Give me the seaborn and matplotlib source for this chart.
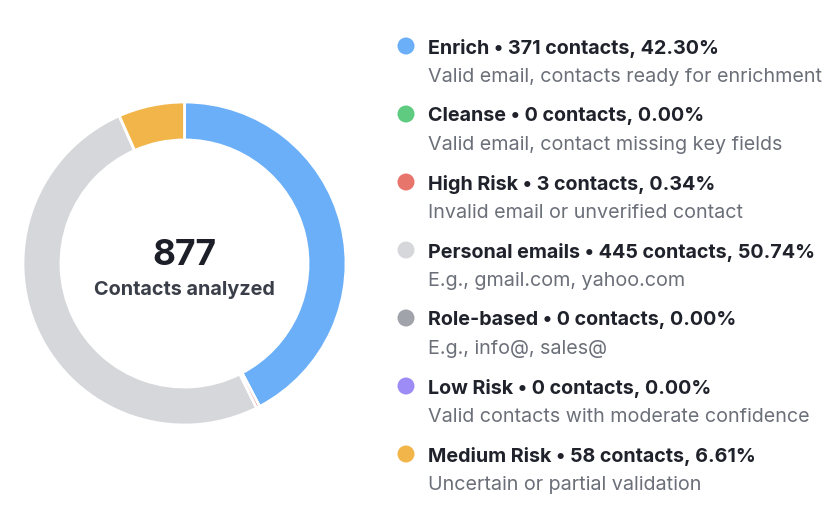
import matplotlib
matplotlib.use("Agg")
import matplotlib.pyplot as plt
import seaborn as sns

categories = ["Enrich", "Cleanse", "High Risk", "Personal emails", "Role-based", "Low Risk", "Medium Risk"]
counts = [371, 0, 3, 445, 0, 0, 58]
percents = ["42.30%", "0.00%", "0.34%", "50.74%", "0.00%", "0.00%", "6.61%"]
descriptions = [
    "Valid email, contacts ready for enrichment",
    "Valid email, contact missing key fields",
    "Invalid email or unverified contact",
    "E.g., gmail.com, yahoo.com",
    "E.g., info@, sales@",
    "Valid contacts with moderate confidence",
    "Uncertain or partial validation",
]
colors = ["#6aaff8", "#5fcb80", "#e8756b", "#d6d7db", "#a0a3a9", "#9d8cf6", "#f2b549"]
total = sum(counts)

sns.set_theme(style="white")
plt.rcParams["font.family"] = ["Inter", "DejaVu Sans"]

W, H = 840, 524
fig = plt.figure(figsize=(W / 100, H / 100), dpi=100)

# donut
cx, cy, r = 184.5, 263.5, 161.5
ax = fig.add_axes([(cx - r) / W, (H - cy - r) / H, 2 * r / W, 2 * r / H])
ax.pie(counts, colors=colors, startangle=90, counterclock=False, radius=1,
       wedgeprops=dict(width=0.235, edgecolor="white", linewidth=2))
ax.set_xlim(-1, 1)
ax.set_ylim(-1, 1)
ax.set_aspect("equal")
ax.axis("off")
ax.text(0, 0.05, f"{total}", ha="center", va="center", fontsize=25.5, fontweight="bold", color="#1c1f27")
ax.text(0, -0.162, "Contacts analyzed", ha="center", va="center", fontsize=14.3, fontweight="bold", color="#3a3e48")

# legend
lg = fig.add_axes([0, 0, 1, 1])
lg.set_xlim(0, W)
lg.set_ylim(H, 0)
lg.axis("off")
y0, step = 46, 68
for i, (name, n, p, d) in enumerate(zip(categories, counts, percents, descriptions)):
    y = y0 + i * step
    lg.scatter([406], [y], s=150, color=colors[i], edgecolor="none")
    lg.text(428, y + 2, f"{name} \u2022 {n} contacts, {p}", ha="left", va="center",
            fontsize=14.2, fontweight="bold", color="#1f222b")
    lg.text(428, y + 31, d, ha="left", va="center", fontsize=14.2, color="#6b6f78")

fig.savefig("out.png", dpi=100)
